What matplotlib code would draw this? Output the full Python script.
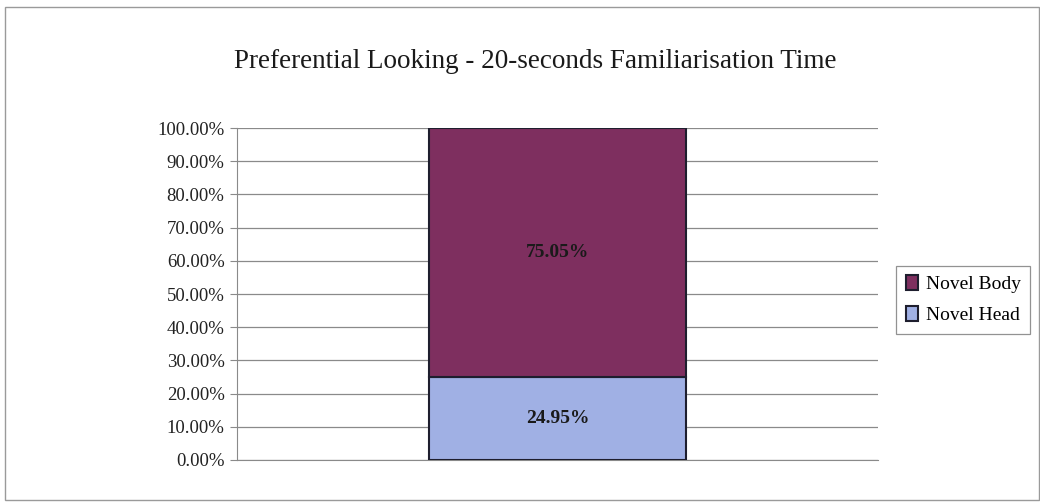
import matplotlib.pyplot as plt
from matplotlib.patches import Rectangle

categories = [""]
novel_head = [24.95]
novel_body = [75.05]
series_names = ["Novel Head", "Novel Body"]
y_ticks = [0, 10, 20, 30, 40, 50, 60, 70, 80, 90, 100]

plt.rcParams["font.family"] = ["Liberation Serif", "DejaVu Serif"]

fig = plt.figure(figsize=(10.4, 5.03), dpi=100)
ax = fig.add_axes([0.228, 0.0855, 0.616, 0.66])

# figure border
fig.patches.append(Rectangle((0.005, 0.006), 0.994, 0.98, transform=fig.transFigure,
                             fill=False, edgecolor="#9a9a9a", linewidth=1))

x = [0]
head = ax.bar(x, novel_head, width=0.4, color="#a0b0e4", edgecolor="#1e1e2e",
              linewidth=1.5, label=series_names[0], zorder=3)
body = ax.bar(x, novel_body, width=0.4, bottom=novel_head, color="#7e2f5f",
              edgecolor="#1e1e2e", linewidth=1.5, label=series_names[1], zorder=3)

for h, b in zip(novel_head, novel_body):
    ax.text(0, h / 2, f"{h:.2f}%", ha="center", va="center", fontsize=14,
            fontweight="bold", color="#1a1a1a", zorder=4)
    ax.text(0, h + b / 2, f"{b:.2f}%", ha="center", va="center", fontsize=14,
            fontweight="bold", color="#1a1a1a", zorder=4)

ax.set_xlim(-0.5, 0.5)
ax.set_ylim(0, 100)
ax.set_yticks(y_ticks)
ax.set_yticklabels([f"{v:.2f}%" for v in y_ticks], fontsize=13.5, color="#222222")
ax.set_xticks([])
ax.yaxis.grid(True, color="#8a8a8a", linewidth=0.9)
ax.set_axisbelow(True)
for side in ["top", "right"]:
    ax.spines[side].set_visible(False)
ax.spines["left"].set_color("#8a8a8a")
ax.spines["bottom"].set_color("#8a8a8a")
ax.tick_params(axis="y", length=5, color="#8a8a8a", pad=4)

fig.text(0.515, 0.877, "Preferential Looking - 20-seconds Familiarisation Time",
         ha="center", va="center", fontsize=19.5, color="#1a1a1a")

leg = fig.legend([body, head], [series_names[1], series_names[0]],
                 loc="center left", bbox_to_anchor=(0.862, 0.404), fontsize=14,
                 frameon=True, fancybox=False, handlelength=0.6, handleheight=0.8,
                 handletextpad=0.4, borderpad=0.5, labelspacing=0.65,
                 borderaxespad=0)
leg.get_frame().set_edgecolor("#777777")
leg.get_frame().set_linewidth(0.9)

fig.savefig("out.png", dpi=100)
